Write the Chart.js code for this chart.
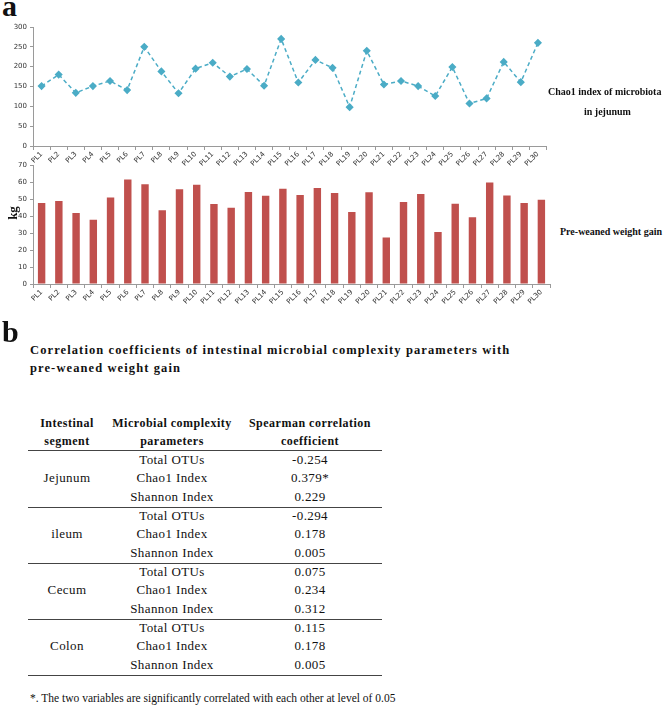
<!DOCTYPE html>
<html lang="en">
<head>
  <meta charset="UTF-8" />
  <title>Chao1 index and pre-weaned weight gain</title>
  <script src="https://cdn.jsdelivr.net/npm/chart.js"></script>
  <style>
    body { margin: 0; background: #fff; width: 669px; height: 708px; position: relative; overflow: hidden;
           font-family: "Liberation Serif", "Times New Roman", serif; color: #111; }
    .abs { position: absolute; white-space: nowrap; }
    .panel { font-size: 30px; line-height: 30px; font-weight: bold; }
    .side { font-size: 10px; font-weight: bold; line-height: 14px; }
    .ttl { font-size: 12.5px; font-weight: bold; letter-spacing: 1.1px; line-height: 18px; }
    .cell { position: absolute; text-align: center; white-space: nowrap; font-size: 13px; letter-spacing: 0.4px; line-height: 18.7px; height: 18.7px; }
    .hd { font-size: 12px; font-weight: bold; letter-spacing: 0.5px; line-height: 18px; }
    .rule { position: absolute; left: 28px; width: 354px; background: #444; }
  </style>
</head>
<body>
  <!-- panel a -->
  <div class="abs panel" style="left:2px; top:-9px;">a</div>
  <canvas id="chaoChart" class="abs" style="left:0; top:0;" width="552" height="168"></canvas>
  <canvas id="weightChart" class="abs" style="left:0; top:158px;" width="552" height="148"></canvas>
  <div class="abs" style="left:6px; top:205px; font-size:13px; font-weight:bold; transform:rotate(-90deg);">kg</div>
  <div class="abs side" style="left:548px; top:85px;">Chao1 index of microbiota</div>
  <div class="abs side" style="left:584px; top:105px;">in jejunum</div>
  <div class="abs side" style="left:560px; top:225px;">Pre-weaned weight gain</div>

  <!-- panel b -->
  <div class="abs panel" style="left:2px; top:317px;">b</div>
  <div class="abs ttl" style="left:30px; top:341px;">Correlation coefficients of intestinal microbial complexity parameters with<br>pre-weaned weight gain</div>
  <div id="table"></div>
  <div class="abs" style="left:30px; top:692px; font-size:11.5px;">*. The two variables are significantly correlated with each other at level of 0.05</div>

  <script>
    // данные
    const samples = ['PL1', 'PL2', 'PL3', 'PL4', 'PL5', 'PL6', 'PL7', 'PL8', 'PL9', 'PL10',
                     'PL11', 'PL12', 'PL13', 'PL14', 'PL15', 'PL16', 'PL17', 'PL18', 'PL19', 'PL20',
                     'PL21', 'PL22', 'PL23', 'PL24', 'PL25', 'PL26', 'PL27', 'PL28', 'PL29', 'PL30'];
    const chao1 = [151, 180, 134, 151, 164, 141, 250, 188, 133, 195,
                   210, 175, 194, 152, 270, 160, 217, 197, 98, 240,
                   155, 164, 151, 126, 199, 107, 120, 212, 161, 260];
    const weightGain = [47.7, 48.9, 41.8, 37.9, 51.0, 61.6, 58.8, 43.4, 55.9, 58.5,
                        47.1, 45.0, 54.2, 52.0, 56.1, 52.4, 56.5, 53.6, 42.4, 54.0,
                        27.4, 48.3, 53.0, 30.7, 47.3, 39.3, 59.8, 52.2, 47.7, 49.7];

    // таблица корреляций
    const headers = [['Intestinal', 'segment'], ['Microbial complexity', 'parameters'], ['Spearman  correlation', 'coefficient']];
    const segments = ['Jejunum', 'ileum', 'Cecum', 'Colon'];
    const params = ['Total OTUs', 'Chao1 Index', 'Shannon Index'];
    const coefficients = [
      ['-0.254', '0.379*', '0.229'],
      ['-0.294', '0.178', '0.005'],
      ['0.075', '0.234', '0.312'],
      ['0.115', '0.178', '0.005']
    ];

    const tickFont = { family: 'DejaVu Sans', size: 7 };
    const axisColor = '#9a9a9a';

    function xAxis() {
      return {
        offset: true,
        grid: { offset: true, drawOnChartArea: false, tickLength: 4, color: axisColor },
        border: { color: axisColor },
        ticks: { font: tickFont, color: '#333', minRotation: 45, maxRotation: 45, autoSkip: false, padding: 0 },
        afterFit: s => { s.height = 22; }
      };
    }

    function yAxis(max, step) {
      return {
        min: 0, max: max,
        grid: { drawOnChartArea: false, tickLength: 3, color: axisColor },
        border: { color: axisColor },
        ticks: { stepSize: step, font: tickFont, color: '#333', padding: 3 },
        afterFit: s => { s.width = 33; }
      };
    }

    new Chart(document.getElementById('chaoChart'), {
      type: 'line',
      data: {
        labels: samples,
        datasets: [{
          data: chao1,
          borderColor: '#4bacc6',
          backgroundColor: '#4bacc6',
          borderWidth: 1.5,
          borderDash: [4, 3],
          pointStyle: 'rectRot',
          pointRadius: 3,
          tension: 0
        }]
      },
      options: {
        responsive: false,
        animation: false,
        layout: { padding: { top: 27, right: 2 } },
        plugins: { legend: { display: false }, tooltip: { enabled: false } },
        scales: { x: xAxis(), y: yAxis(300, 50) }
      }
    });

    new Chart(document.getElementById('weightChart'), {
      type: 'bar',
      data: {
        labels: samples,
        datasets: [{
          data: weightGain,
          backgroundColor: '#c0504d',
          barPercentage: 0.43,
          categoryPercentage: 1
        }]
      },
      options: {
        responsive: false,
        animation: false,
        layout: { padding: { top: 5, right: 2 } },
        plugins: { legend: { display: false }, tooltip: { enabled: false } },
        scales: { x: xAxis(), y: yAxis(70, 10) }
      }
    });

    // таблица: собираем из массивов
    const box = document.getElementById('table');
    const cols = [{ left: 28, width: 78 }, { left: 106, width: 132 }, { left: 238, width: 144 }];
    const rowH = 18.67;
    const bodyTop = 450.5;

    function cell(text, col, top, extra) {
      const d = document.createElement('div');
      d.className = 'cell' + (extra ? ' ' + extra : '');
      d.style.left = cols[col].left + 'px';
      d.style.width = cols[col].width + 'px';
      d.style.top = top + 'px';
      d.textContent = text;
      box.appendChild(d);
    }
    function rule(top, h) {
      const r = document.createElement('div');
      r.className = 'rule';
      r.style.top = top + 'px';
      r.style.height = h + 'px';
      box.appendChild(r);
    }

    headers.forEach((lines, c) => {
      cell(lines[0], c, 414, 'hd');
      cell(lines[1], c, 432, 'hd');
    });
    rule(449.5, 1.5);

    segments.forEach((seg, g) => {
      const gTop = bodyTop + g * 3 * rowH;
      cell(seg, 0, gTop + rowH);
      params.forEach((p, i) => {
        cell(p, 1, gTop + i * rowH);
        cell(coefficients[g][i], 2, gTop + i * rowH);
      });
      rule(gTop + 3 * rowH, 1);
    });
  </script>
</body>
</html>
